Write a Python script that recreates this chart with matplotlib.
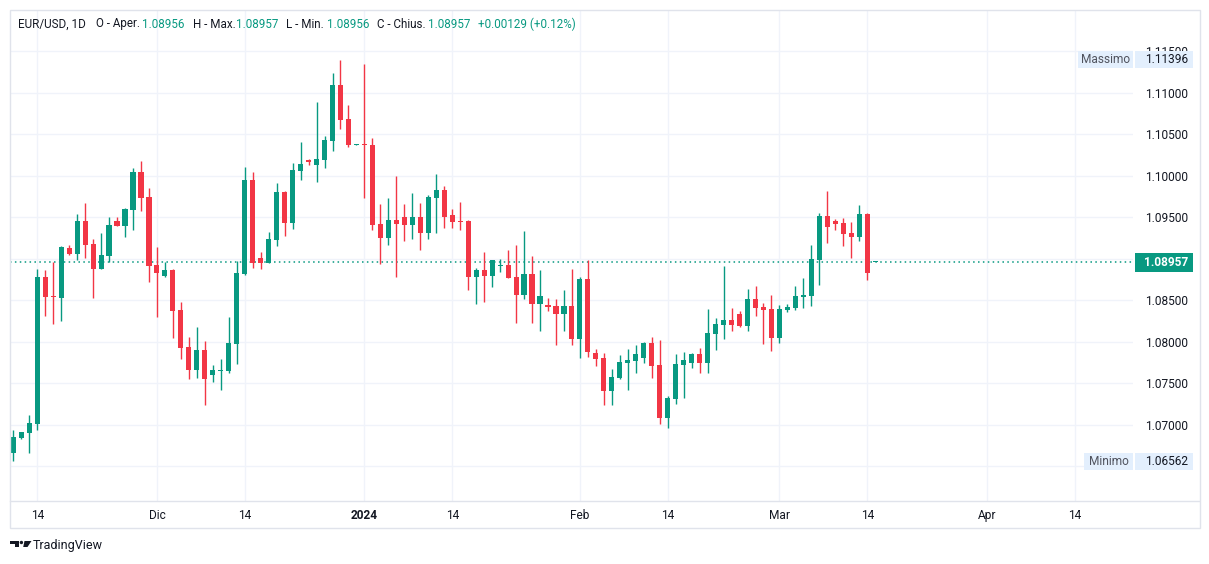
import matplotlib
matplotlib.use("Agg")
import matplotlib.pyplot as plt
import matplotlib.patches as patches
from matplotlib.transforms import blended_transform_factory
import pandas as pd

plt.rcParams['font.family'] = ['Roboto', 'DejaVu Sans']

# EUR/USD daily candles (Sunday sessions included)
opens = [1.06663, 1.06843, 1.06904, 1.07012, 1.08780, 1.08554, 1.08530, 1.09129, 1.09060, 1.09454,
         1.09177, 1.08880, 1.09036, 1.09454, 1.09394, 1.09587, 1.10045, 1.09743, 1.08924, 1.08795,
         1.08864, 1.08382, 1.07936, 1.07663, 1.07900, 1.07602, 1.07650, 1.07650, 1.07976, 1.08820,
         1.09948, 1.09008, 1.08952, 1.09225, 1.09804, 1.09430, 1.10057, 1.10190, 1.10129, 1.10189,
         1.10418, 1.11093, 1.10683, 1.10370, 1.10380, 1.10370, 1.09418, 1.09253, 1.09466, 1.09502,
         1.09410, 1.09502, 1.09313, 1.09735, 1.09828, 1.09527, 1.09450, 1.09454, 1.08783, 1.08864,
         1.08795, 1.08910, 1.08924, 1.08780, 1.08566, 1.08816, 1.08458, 1.08442, 1.08430, 1.08337,
         1.08430, 1.08036, 1.08755, 1.07868, 1.07804, 1.07406, 1.07566, 1.07747, 1.07771, 1.07807,
         1.07984, 1.07723, 1.07084, 1.07313, 1.07723, 1.07747, 1.07852, 1.07747, 1.08096, 1.08205,
         1.08261, 1.08334, 1.08193, 1.08514, 1.08418, 1.08394, 1.08048, 1.08386, 1.08410, 1.08539,
         1.08554, 1.08984, 1.09514, 1.09454, 1.09430, 1.09310, 1.09265, 1.09539, 1.08956]
highs = [1.06936, 1.06915, 1.07117, 1.08876, 1.08864, 1.08960, 1.09150, 1.09165, 1.09539, 1.09671,
         1.09237, 1.09310, 1.09502, 1.09502, 1.09610, 1.10093, 1.10177, 1.09852, 1.09141, 1.08957,
         1.08880, 1.08478, 1.08057, 1.08177, 1.08008, 1.07719, 1.07792, 1.08298, 1.08972, 1.10105,
         1.10045, 1.09081, 1.09322, 1.09912, 1.09810, 1.10153, 1.10406, 1.10205, 1.10888, 1.10478,
         1.11237, 1.11396, 1.10852, 1.10385, 1.11346, 1.10454, 1.09659, 1.09735, 1.09996, 1.09659,
         1.09792, 1.09671, 1.09767, 1.10020, 1.09876, 1.09599, 1.09683, 1.09466, 1.08888, 1.09081,
         1.08990, 1.08996, 1.09105, 1.09165, 1.09334, 1.09033, 1.08864, 1.08527, 1.08514, 1.08623,
         1.08876, 1.08780, 1.08984, 1.07912, 1.07864, 1.07671, 1.07840, 1.07912, 1.07960, 1.07996,
         1.08057, 1.08020, 1.07346, 1.07852, 1.07876, 1.07860, 1.07924, 1.08394, 1.08286, 1.08912,
         1.08406, 1.08370, 1.08639, 1.08671, 1.08466, 1.08563, 1.08442, 1.08454, 1.08671, 1.08767,
         1.09165, 1.09551, 1.09816, 1.09478, 1.09490, 1.09442, 1.09647, 1.09551, 1.08957]
lows = [1.06566, 1.06830, 1.06663, 1.06940, 1.08313, 1.08217, 1.08250, 1.09045, 1.08984, 1.09012,
        1.08530, 1.08875, 1.08960, 1.09390, 1.09261, 1.09346, 1.09575, 1.08723, 1.08301, 1.08783,
        1.08048, 1.07795, 1.07554, 1.07566, 1.07241, 1.07518, 1.07422, 1.07627, 1.07735, 1.08807,
        1.08892, 1.08880, 1.08950, 1.09153, 1.09273, 1.09358, 1.09948, 1.10133, 1.09924, 1.10093,
        1.10298, 1.10563, 1.10346, 1.10365, 1.09735, 1.09349, 1.08940, 1.09169, 1.08783, 1.09217,
        1.09241, 1.09108, 1.09241, 1.09313, 1.09373, 1.09373, 1.09349, 1.08627, 1.08458, 1.08482,
        1.08663, 1.08843, 1.08770, 1.08229, 1.08518, 1.08229, 1.08133, 1.08373, 1.07964, 1.08133,
        1.07964, 1.07807, 1.07819, 1.07711, 1.07237, 1.07237, 1.07554, 1.07422, 1.07627, 1.07747,
        1.07566, 1.07012, 1.06964, 1.07253, 1.07325, 1.07687, 1.07627, 1.07627, 1.07904, 1.08036,
        1.08133, 1.08181, 1.08133, 1.08313, 1.07976, 1.07892, 1.07988, 1.08361, 1.08386, 1.08410,
        1.08434, 1.08687, 1.09193, 1.09349, 1.09157, 1.09012, 1.09217, 1.08747, 1.08956]
closes = [1.06852, 1.06912, 1.07020, 1.08780, 1.08542, 1.08535, 1.09141, 1.09060, 1.09454, 1.09169,
          1.08880, 1.09045, 1.09406, 1.09394, 1.09599, 1.10045, 1.09735, 1.08916, 1.08831, 1.08864,
          1.08373, 1.07928, 1.07663, 1.07900, 1.07554, 1.07659, 1.07660, 1.07984, 1.08828, 1.09948,
          1.08952, 1.08952, 1.09237, 1.09804, 1.09430, 1.10069, 1.10141, 1.10170, 1.10201, 1.10430,
          1.11093, 1.10671, 1.10370, 1.10380, 1.10370, 1.09410, 1.09253, 1.09466, 1.09422, 1.09410,
          1.09502, 1.09313, 1.09743, 1.09828, 1.09506, 1.09446, 1.09440, 1.08783, 1.08864, 1.08795,
          1.08984, 1.08920, 1.08771, 1.08566, 1.08816, 1.08458, 1.08551, 1.08422, 1.08337, 1.08430,
          1.08036, 1.08755, 1.07880, 1.07795, 1.07406, 1.07575, 1.07755, 1.07780, 1.07852, 1.07984,
          1.07711, 1.07084, 1.07322, 1.07731, 1.07780, 1.07852, 1.07747, 1.08105, 1.08213, 1.08261,
          1.08205, 1.08193, 1.08514, 1.08410, 1.08386, 1.08048, 1.08394, 1.08418, 1.08551, 1.08563,
          1.08996, 1.09514, 1.09386, 1.09422, 1.09301, 1.09265, 1.09539, 1.08831, 1.08957]

tick_dates = ["2023-11-14", "2023-12-01", "2023-12-14", "2024-01-01", "2024-01-14", "2024-02-01",
              "2024-02-14", "2024-03-01", "2024-03-14", "2024-04-01", "2024-04-14"]
tick_labels = ["14", "Dic", "14", "2024", "14", "Feb", "14", "Mar", "14", "Apr", "14"]

price_ticks = [1.065, 1.070, 1.075, 1.080, 1.085, 1.090, 1.095, 1.100, 1.105, 1.110, 1.115]
price_labels = ["", "1.07000", "1.07500", "1.08000", "1.08500", "", "1.09500", "1.10000",
                "1.10500", "1.11000", "1.11500"]
last_price = 1.08957
max_price = 1.11396
min_price = 1.06562

GREEN = '#089981'
RED = '#F23645'
TXT = '#131722'
GRID = '#f0f3fa'
BORDER = '#e0e3eb'
LABEL_BG = '#e3effd'

# bar slots: every day except Saturday
all_days = pd.date_range("2023-11-10", "2024-04-30", freq="D")
slots = all_days[all_days.dayofweek != 5]
dates = slots[:len(opens)]
xs = [slots.get_loc(d) for d in dates]
tick_pos = [slots.get_loc(pd.Timestamp(d)) for d in tick_dates]

W, H = 1209, 564
fig = plt.figure(figsize=(W / 100, H / 100), dpi=100)


def fx(px):
    return px / W


def fy(py):
    return 1 - py / H


PL, PR, PT, PB = 10, 1133, 10, 501
ax = fig.add_axes([fx(PL), fy(PB), (PR - PL) / W, (PB - PT) / H])
ax.set_xlim(-0.41, 140.3)
ax.set_ylim(1.06081, 1.11996)
for s in ax.spines.values():
    s.set_visible(False)

# grid
ax.set_xticks(tick_pos)
ax.set_xticklabels(tick_labels)
ax.set_yticks(price_ticks)
ax.set_yticklabels(price_labels)
ax.grid(True, color=GRID, lw=1, zorder=0)
ax.set_axisbelow(True)
ax.yaxis.tick_right()
ax.tick_params(axis='y', length=0, pad=39.6, labelsize=8.6, labelcolor=TXT)
for lbl in ax.get_yticklabels():
    lbl.set_horizontalalignment('right')
ax.tick_params(axis='x', length=0, pad=6, labelsize=8.6, labelcolor=TXT)
for lbl, t in zip(ax.get_xticklabels(), tick_labels):
    if t == "2024":
        lbl.set_fontweight('bold')

# candles
for x, o, h, l, c in zip(xs, opens, highs, lows, closes):
    col = GREEN if c >= o else RED
    ax.vlines(x, l, h, color=col, lw=1.0, zorder=3)
    body = max(abs(c - o), 0.00013)
    ax.bar(x, body, bottom=min(o, c), width=0.64, color=col, lw=0, zorder=4)

# last price line
ax.axhline(last_price, color=GREEN, lw=1.1, ls=(0, (1, 2.2)), zorder=2)

# price scale labels
tr = blended_transform_factory(ax.transAxes, ax.transData)
pxh = (ax.get_ylim()[1] - ax.get_ylim()[0]) / (PB - PT)


def ax_x(px):
    return (px - PL) / (PR - PL)


def tag(x0, x1, y, h, text, fc, color, weight='normal', right=True):
    rect = patches.Rectangle((ax_x(x0), y - h * pxh / 2), ax_x(x1) - ax_x(x0), h * pxh,
                             transform=tr, facecolor=fc, edgecolor='none', clip_on=False, zorder=8)
    ax.add_patch(rect)
    if right:
        ax.text(ax_x(x1 - 5), y, text, transform=tr, ha='right', va='center', fontsize=8.6,
                color=color, fontweight=weight, clip_on=False, zorder=9)
    else:
        ax.text(ax_x((x0 + x1) / 2), y, text, transform=tr, ha='center', va='center', fontsize=8.6,
                color=color, fontweight=weight, clip_on=False, zorder=9)


tag(1078, 1133, max_price, 17, "Massimo", LABEL_BG, '#50535e', right=False)
tag(1135, 1193, max_price, 17, f"{max_price:.5f}", LABEL_BG, TXT)
tag(1084, 1133, min_price, 17, "Minimo", LABEL_BG, '#50535e', right=False)
tag(1135, 1193, min_price, 17, f"{min_price:.5f}", LABEL_BG, TXT)
tag(1135, 1193, last_price, 19, f"{last_price:.5f}", GREEN, 'white', weight='bold')

# frame and time-scale separator
fig.add_artist(patches.Rectangle((fx(9.5), fy(527.5)), (1199.5 - 9.5) / W, (527.5 - 9.5) / H,
                                 transform=fig.transFigure, fill=False, edgecolor=BORDER, lw=1))
fig.add_artist(plt.Line2D([fx(10), fx(1199)], [fy(501), fy(501)], transform=fig.transFigure,
                          color=BORDER, lw=1))

# header legend
header = [(18.3, "EUR/USD, 1D", TXT), (96, "O - Aper.", TXT), (142.3, "1.08956", GREEN),
          (192.7, "H - Max.", TXT), (236, "1.08957", GREEN), (285.7, "L - Min.", TXT),
          (327.3, "1.08956", GREEN), (377.3, "C - Chius.", TXT), (428.3, "1.08957", GREEN),
          (478.3, "+0.00129 (+0.12%)", GREEN)]
for px, t, col in header:
    fig.text(fx(px), fy(24), t, ha='left', va='center', fontsize=8.4, color=col)


# footer logo (T shape, dot, slanted stroke) and name
def poly(pts):
    fig.add_artist(patches.Polygon([(fx(a), fy(b)) for a, b in pts], closed=True,
                                   transform=fig.transFigure, facecolor=TXT, edgecolor='none'))


poly([(10, 541), (19, 541), (19, 547), (15, 547), (15, 543.6), (10, 543.6)])
fig.add_artist(patches.Ellipse((fx(21.4), fy(542.5)), 3.4 / W, 3.4 / H,
                               transform=fig.transFigure, facecolor=TXT, edgecolor='none'))
poly([(24.5, 541), (31.5, 541), (27.5, 547), (23.2, 547)])
fig.text(fx(33), fy(546), "TradingView", ha='left', va='center', fontsize=9, color=TXT)

fig.savefig("out.png", dpi=100, facecolor='white')
